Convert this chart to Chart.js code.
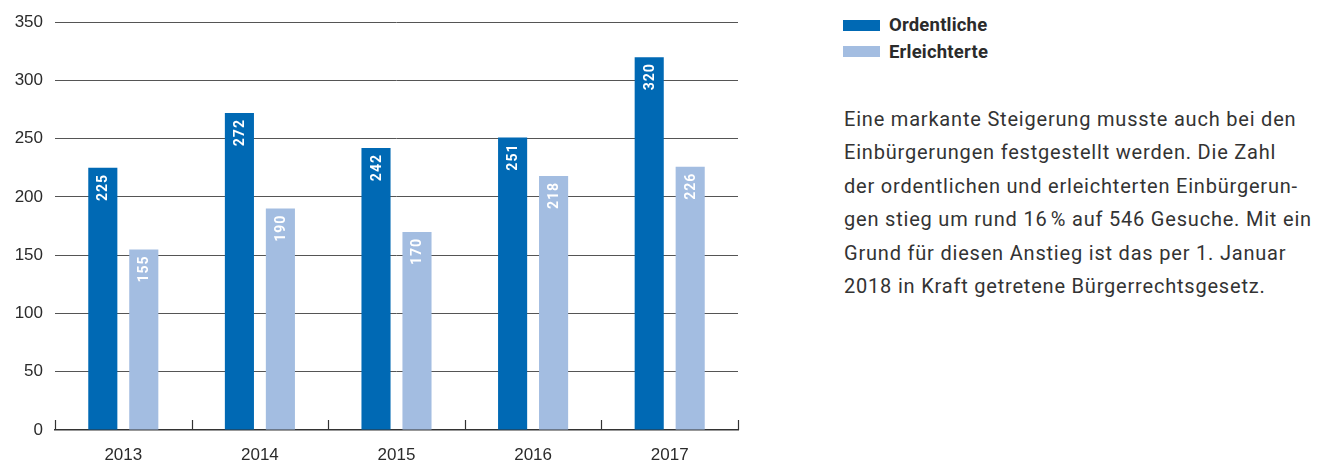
<!DOCTYPE html>
<html lang="de">
<head>
    <meta charset="UTF-8">
    <title>Einbürgerungen 2013–2017</title>
    <script src="https://cdn.jsdelivr.net/npm/chart.js"></script>
    <style>
        body {
            margin: 0;
            background: #fff;
            font-family: Roboto, 'Liberation Sans', sans-serif;
            color: #2b2b2b;
        }
        #wrap { position: relative; width: 1319px; height: 465px; }
        #chartBox { position: absolute; left: 0; top: 0; width: 760px; height: 465px; }
        .legend { position: absolute; left: 843px; top: 12px; }
        .legend div { display: flex; align-items: center; height: 26.5px; font-weight: bold; font-size: 18.5px; letter-spacing: 0.2px; }
        .legend span { display: inline-block; width: 37px; height: 11px; margin-right: 9px; }
        .note {
            position: absolute; left: 844px; top: 103px;
            font-size: 20px; line-height: 33.4px; color: #333; letter-spacing: 0.8px;
        }
    </style>
</head>
<body>
<div id="wrap">
    <div id="chartBox"><canvas id="chart"></canvas></div>
    <div class="legend" id="legend"></div>
    <div class="note">
        Eine markante Steigerung musste auch bei den<br>
        Einbürgerungen festgestellt werden. Die Zahl<br>
        der ordentlichen und erleichterten Einbürgerun-<br>
        gen stieg um rund 16&#8239;% auf 546 Gesuche. Mit ein<br>
        Grund für diesen Anstieg ist das per 1. Januar<br>
        2018 in Kraft getretene Bürgerrechtsgesetz.
    </div>
</div>
<script>
const years = ['2013', '2014', '2015', '2016', '2017'];
const ordentliche = [225, 272, 242, 251, 320];
const erleichterte = [155, 190, 170, 218, 226];
const seriesNames = ['Ordentliche', 'Erleichterte'];
const colors = ['#0069b4', '#a3bde1'];
const yTicks = [0, 50, 100, 150, 200, 250, 300, 350];

// legend on the right
document.getElementById('legend').innerHTML = seriesNames
    .map((n, i) => `<div><span style="background:${colors[i]}"></span>${n}</div>`).join('');

// white rotated value labels at top of bars
const barLabels = {
    id: 'barLabels',
    afterDatasetsDraw(chart) {
        const ctx = chart.ctx;
        ctx.save();
        ctx.fillStyle = '#fff';
        ctx.font = 'bold 14px Roboto, sans-serif';
        ctx.textAlign = 'right';
        ctx.textBaseline = 'middle';
        chart.data.datasets.forEach((ds, di) => {
            chart.getDatasetMeta(di).data.forEach((bar, i) => {
                ctx.save();
                ctx.translate(bar.x + 1, bar.y + 6);
                ctx.rotate(-Math.PI / 2);
                ctx.letterSpacing = '1px';
                ctx.fillText(String(ds.data[i]), 0, 0);
                ctx.restore();
            });
        });
        ctx.restore();
    }
};

// small upward tick marks at category boundaries on the x axis
const xTicksUp = {
    id: 'xTicksUp',
    afterDraw(chart) {
        const x = chart.scales.x, ctx = chart.ctx;
        const step = (x.right - x.left) / years.length;
        ctx.save();
        ctx.strokeStyle = '#333';
        ctx.lineWidth = 1.2;
        for (let i = 0; i <= years.length; i++) {
            const px = Math.round(x.left + i * step) + 0.5;
            ctx.beginPath();
            ctx.moveTo(px, x.top - 10);
            ctx.lineTo(px, x.top);
            ctx.stroke();
        }
        ctx.restore();
    }
};

new Chart(document.getElementById('chart'), {
    type: 'bar',
    data: {
        labels: years,
        datasets: [
            { label: seriesNames[0], data: ordentliche, backgroundColor: colors[0] },
            { label: seriesNames[1], data: erleichterte, backgroundColor: colors[1] }
        ]
    },
    options: {
        responsive: true,
        maintainAspectRatio: false,
        animation: false,
        categoryPercentage: 0.6,
        barPercentage: 0.71,
        layout: { padding: { left: 0, right: 22, top: 19, bottom: 0 } },
        plugins: { legend: { display: false }, tooltip: { enabled: false } },
        scales: {
            x: {
                grid: { display: false },
                border: { display: true, color: '#333', width: 1.5 },
                ticks: { color: '#2b2b2b', font: { size: 17 }, padding: 7 },
                afterFit(s) { s.height = 35; }
            },
            y: {
                min: 0,
                max: 350,
                afterBuildTicks(s) { s.ticks = yTicks.map(v => ({ value: v })); },
                grid: {
                    color: (c) => c.tick && c.tick.value === 0 ? 'rgba(0,0,0,0)' : '#555',
                    lineWidth: 1,
                    drawTicks: false
                },
                border: { display: false },
                ticks: { color: '#2b2b2b', font: { size: 17 }, padding: 12 },
                afterFit(s) { s.width = 55; }
            }
        }
    },
    plugins: [barLabels, xTicksUp]
});
</script>
</body>
</html>
